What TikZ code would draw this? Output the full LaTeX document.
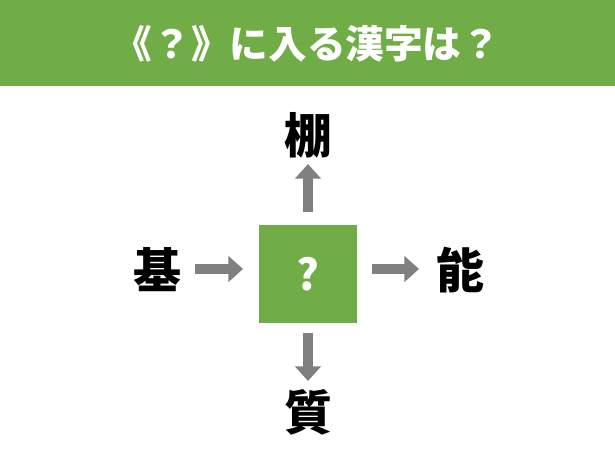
\documentclass[tikz,border=0pt]{standalone}
\usepackage{fontspec}
\newfontfamily\cjk{Noto Sans CJK JP}
\usetikzlibrary{arrows.meta}
\definecolor{banner}{RGB}{112,173,71}
\definecolor{arrowgray}{RGB}{128,128,128}
\tikzset{
  kanji/.style={font=\cjk\bfseries\fontsize{36}{40}\selectfont, inner sep=0pt},
  flow/.style={draw=arrowgray, line width=7pt, -{Triangle[length=11pt,width=19pt]}, shorten <=0pt}
}
\begin{document}
\begin{tikzpicture}[x=0.75pt,y=0.75pt,yscale=-1]
\useasboundingbox (0,0) rectangle (615,462);
\fill[white] (0,0) rectangle (615,462);
% banner
\fill[banner] (0,0) rectangle (615,86);
\node[font=\cjk\bfseries\fontsize{29}{32}\selectfont, text=white] (title) at (307,44) {《？》に入る漢字は？};
% centre box
\node[fill=banner, minimum width=74pt, minimum height=74pt, inner sep=0pt,
      font=\cjk\bfseries\fontsize{32}{36}\selectfont, text=white] (q) at (308,274) {?};
% surrounding kanji
\node[kanji] (top) at (308,135) {棚};
\node[kanji] (left) at (157,270) {基};
\node[kanji] (right) at (460,270) {能};
\node[kanji] (bottom) at (308,412) {質};
% arrows
\coordinate (t1) at (308,212); \coordinate (t2) at (308,164);
\coordinate (l1) at (195,269); \coordinate (l2) at (243,269);
\coordinate (r1) at (372,269); \coordinate (r2) at (419,269);
\coordinate (b1) at (308,333); \coordinate (b2) at (308,381);
\draw[flow] (t1) -- (t2);
\draw[flow] (l1) -- (l2);
\draw[flow] (r1) -- (r2);
\draw[flow] (b1) -- (b2);
\end{tikzpicture}
\end{document}
